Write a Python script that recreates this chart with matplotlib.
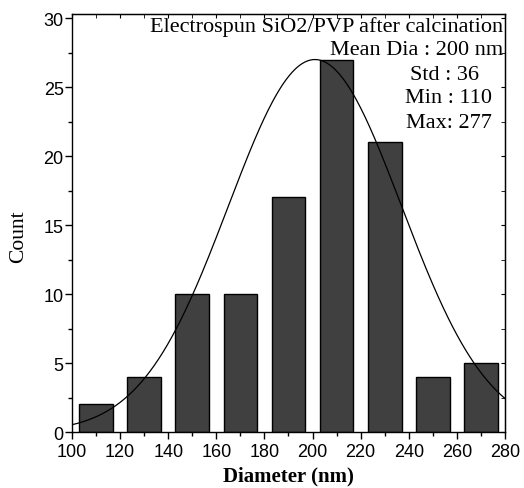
import numpy as np
import matplotlib
matplotlib.use("Agg")
import matplotlib.pyplot as plt
from matplotlib.ticker import MultipleLocator

# Data
bin_centers = [110, 130, 150, 170, 190, 210, 230, 250, 270]
counts = [2, 4, 10, 10, 17, 27, 21, 4, 5]
fit_mean = 201
fit_std = 36
fit_peak = 27
annot_right = ["Electrospun SiO2/PVP after calcination", "Mean Dia : 200 nm"]
annot_left = ["Std : 36", "Min : 110", "Max: 277"]

fig = plt.figure(figsize=(5.24, 4.89), dpi=100)
ax = fig.add_axes([0.1374, 0.1145, 0.9637 - 0.1374, 0.9693 - 0.1145])

ax.bar(bin_centers, counts, width=14, color="#404040", edgecolor="black", linewidth=1.0, zorder=2)

xs = np.linspace(100, 280, 400)
ys = fit_peak * np.exp(-(xs - fit_mean) ** 2 / (2 * fit_std ** 2))
ax.plot(xs, ys, color="black", linewidth=0.9, zorder=3)

ax.set_xlim(100, 280)
ax.set_ylim(0, 30.3)
ax.xaxis.set_major_locator(MultipleLocator(20))
ax.xaxis.set_minor_locator(MultipleLocator(10))
ax.yaxis.set_major_locator(MultipleLocator(5))
ax.yaxis.set_minor_locator(MultipleLocator(2.5))

ax.tick_params(which="both", direction="out", top=False, right=False, width=1.0)
ax.tick_params(which="major", length=5)
ax.tick_params(which="minor", length=3)
ax.tick_params(axis="both", labelsize=13)
ax.tick_params(axis="x", pad=3)
ax.tick_params(axis="y", pad=1)
for lbl in ax.get_xticklabels() + ax.get_yticklabels():
    lbl.set_family("Liberation Sans")

# inward ticks on top / right
axt = ax.secondary_xaxis("top")
axt.xaxis.set_major_locator(MultipleLocator(20))
axt.xaxis.set_minor_locator(MultipleLocator(10))
axt.tick_params(which="both", direction="in", labeltop=False, length=3)
axr = ax.secondary_yaxis("right")
axr.yaxis.set_major_locator(MultipleLocator(5))
axr.yaxis.set_minor_locator(MultipleLocator(2.5))
axr.tick_params(which="both", direction="in", labelright=False, length=3)

for s in ax.spines.values():
    s.set_linewidth(1.0)

ax.set_xlabel("Diameter (nm)", family="Liberation Serif", fontsize=15, fontweight="bold", labelpad=4)
ax.set_ylabel("Count", family="Liberation Serif", fontsize=15.5)
ax.yaxis.set_label_coords(-0.102, 0.469)

fs = 16
ax.text(0.995, 0.9593, annot_right[0], transform=ax.transAxes, ha="right", va="baseline",
        family="Liberation Serif", fontsize=fs)
ax.text(0.995, 0.9043, annot_right[1], transform=ax.transAxes, ha="right", va="baseline",
        family="Liberation Serif", fontsize=fs)
ax.text(0.7806, 0.8445, annot_left[0], transform=ax.transAxes, ha="left", va="baseline",
        family="Liberation Serif", fontsize=fs)
ax.text(0.769, 0.7895, annot_left[1], transform=ax.transAxes, ha="left", va="baseline",
        family="Liberation Serif", fontsize=fs)
ax.text(0.7714, 0.7297, annot_left[2], transform=ax.transAxes, ha="left", va="baseline",
        family="Liberation Serif", fontsize=fs)

fig.savefig("out.png", dpi=100)
